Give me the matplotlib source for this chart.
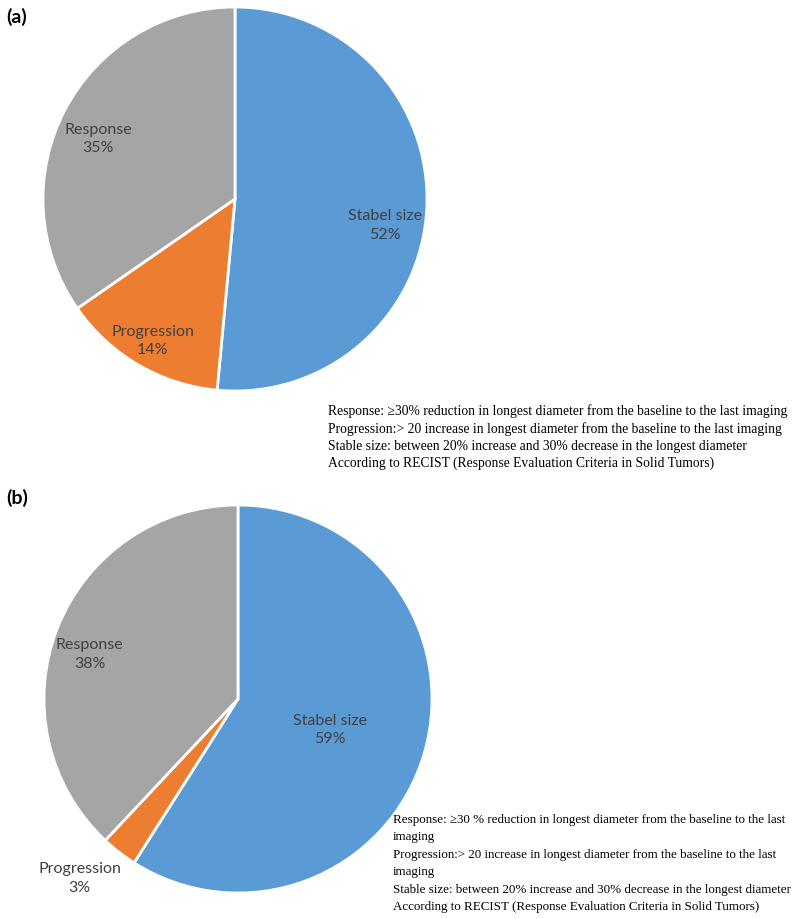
import matplotlib.pyplot as plt
import numpy as np

categories = ["Stabel size", "Progression", "Response"]
values_a = [52, 14, 35]
values_b = [59, 3, 38]
colors = ["#5B9BD5", "#ED7D31", "#A5A5A5"]

note_a = ("Response: \u226530% reduction in longest diameter from the baseline to the last imaging\n"
          "Progression:> 20 increase in longest diameter from the baseline to the last imaging\n"
          "Stable size: between 20% increase and 30% decrease in the longest diameter\n"
          "According to RECIST (Response Evaluation Criteria in Solid Tumors)")
note_b = ("Response: \u226530 % reduction in longest diameter from the baseline to the last\n"
          "imaging\n"
          "Progression:> 20 increase in longest diameter from the baseline to the last\n"
          "imaging\n"
          "Stable size: between 20% increase and 30% decrease in the longest diameter\n"
          "According to RECIST (Response Evaluation Criteria in Solid Tumors)")

W, H = 797, 920
fig = plt.figure(figsize=(W / 100, H / 100), dpi=100)

# label placement: distance from centre (in radii) and angle nudge (deg, clockwise)
def draw_pie(cx, cy, r, vals, label_dist, label_turn):
    ax = fig.add_axes([(cx - r) / W, 1 - (cy + r) / H, 2 * r / W, 2 * r / H])
    wedges, _ = ax.pie(vals, colors=colors, startangle=90, counterclock=False,
                       wedgeprops=dict(edgecolor="white", linewidth=2))
    for w, name, v, d, t in zip(wedges, categories, vals, label_dist, label_turn):
        ang = np.deg2rad((w.theta1 + w.theta2) / 2 - t)
        ax.text(d * np.cos(ang), d * np.sin(ang), f"{name}\n{v}%",
                ha="center", va="center", fontsize=11.5, color="#404040",
                family="Lato", linespacing=1.4)
    ax.set_xlim(-1, 1)
    ax.set_ylim(-1, 1)
    ax.axis("off")
    return ax

draw_pie(235, 200, 192, values_a, [0.79, 0.85, 0.78], [7, 0, -3.5])
draw_pie(238, 700, 194, values_b, [0.5, 1.23, 0.8], [2, 3.8, -4.6])

fig.text(6 / W, 1 - 17 / H, "(a)", fontsize=14, fontweight="bold", family="Lato", va="center")
fig.text(6 / W, 1 - 498 / H, "(b)", fontsize=14, fontweight="bold", family="Lato", va="center")

fig.text(328 / W, 1 - 404 / H, note_a, fontsize=9.85, family="Liberation Serif",
         va="top", ha="left", linespacing=1.4)
fig.text(393 / W, 1 - 814 / H, note_b, fontsize=9.35, family="Liberation Serif",
         va="top", ha="left", linespacing=1.6)

fig.savefig("out.png", dpi=100)
